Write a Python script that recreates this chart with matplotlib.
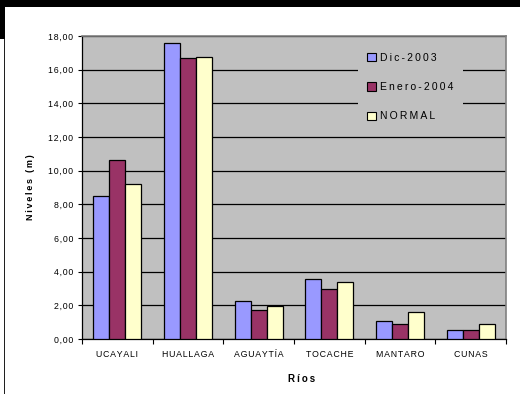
import numpy as np
import matplotlib
matplotlib.use("Agg")
import matplotlib.pyplot as plt
from matplotlib.patches import Rectangle, Patch
from matplotlib.ticker import FuncFormatter, MultipleLocator

plt.rcParams['font.family'] = ['Liberation Sans', 'DejaVu Sans']

# data
rios = ['UCAYALI', 'HUALLAGA', 'AGUAYTÍA', 'TOCACHE', 'MANTARO', 'CUNAS']
dic_2003 = [8.50, 17.60, 2.26, 3.58, 1.07, 0.52]
enero_2004 = [10.62, 16.68, 1.74, 2.95, 0.89, 0.52]
normal = [9.23, 16.74, 1.98, 3.39, 1.59, 0.89]
series_names = ['Dic-2003', 'Enero-2004', 'NORMAL']
colors = ['#9999FF', '#993366', '#FFFFCC']


def spaced(s, sp='\u200a'):
    # old excel charts draw text letter-spaced
    return sp.join(s)


W, H = 520, 394
fig = plt.figure(figsize=(5.2, 3.94), dpi=100, facecolor='white')

# black screenshot border bits
fig.patches.append(Rectangle((0, 1 - 7 / H), 1, 7 / H, transform=fig.transFigure,
                             facecolor='black', edgecolor='none', zorder=0))
fig.patches.append(Rectangle((0, 1 - 39 / H), 4.5 / W, 39 / H, transform=fig.transFigure,
                             facecolor='black', edgecolor='none', zorder=0))
fig.patches.append(Rectangle((4 / W, 0), 1.3 / W, 1 - 39 / H, transform=fig.transFigure,
                             facecolor='#202020', edgecolor='none', zorder=0))

ax = fig.add_axes([82 / W, 1 - 339 / H, 424 / W, 303 / H])
ax.set_facecolor('#C0C0C0')

x = np.arange(len(rios))
w = 0.226
for i, (vals, name, c) in enumerate(zip([dic_2003, enero_2004, normal], series_names, colors)):
    ax.bar(x + (i - 1) * w, vals, width=w, color=c, edgecolor='black',
           linewidth=0.9, zorder=3, label=name)

ax.set_xlim(-0.5, len(rios) - 0.5)
ax.set_ylim(0, 18)
ax.yaxis.set_major_locator(MultipleLocator(2))
ax.yaxis.set_major_formatter(FuncFormatter(lambda v, p: spaced(f'{v:.2f}'.replace('.', ','))))
ax.grid(axis='y', color='black', linewidth=0.9, zorder=1)
ax.set_axisbelow(True)

ax.set_xticks(x)
ax.set_xticklabels([spaced(r) for r in rios])
ax.set_xticks(np.arange(len(rios) + 1) - 0.5, minor=True)
ax.tick_params(axis='x', which='major', length=0, pad=8, labelsize=6.3)
ax.tick_params(axis='x', which='minor', length=3.5, width=0.8, direction='out')
ax.tick_params(axis='y', length=3, width=0.8, pad=3.5, labelsize=6.3)

for s in ['top', 'right']:
    ax.spines[s].set_color('#808080')
    ax.spines[s].set_linewidth(1.2)
for s in ['left', 'bottom']:
    ax.spines[s].set_color('black')
    ax.spines[s].set_linewidth(0.9)

ax.set_ylabel(spaced('Niveles (m)', '\u2009'), fontsize=6.5, fontweight='bold')
ax.yaxis.set_label_coords(-0.112, 0.5)
ax.set_xlabel(spaced('Ríos', '\u2009'), fontsize=7, fontweight='bold')
ax.xaxis.set_label_coords(0.519, -0.114)

handles = [Patch(facecolor=c, edgecolor='black', linewidth=0.8) for c in colors]
leg = ax.legend(handles, [spaced(n, '\u2009') for n in series_names], loc='upper left',
                bbox_to_anchor=(0.650, 0.975),
                frameon=True, facecolor='#C0C0C0', edgecolor='none', framealpha=1,
                fancybox=False, fontsize=7.5, handlelength=0.85, handleheight=0.85,
                handletextpad=0.4, labelspacing=1.85, borderpad=0.9, borderaxespad=0)
leg.set_zorder(5)

fig.savefig('out.png', dpi=100, facecolor=fig.get_facecolor())
